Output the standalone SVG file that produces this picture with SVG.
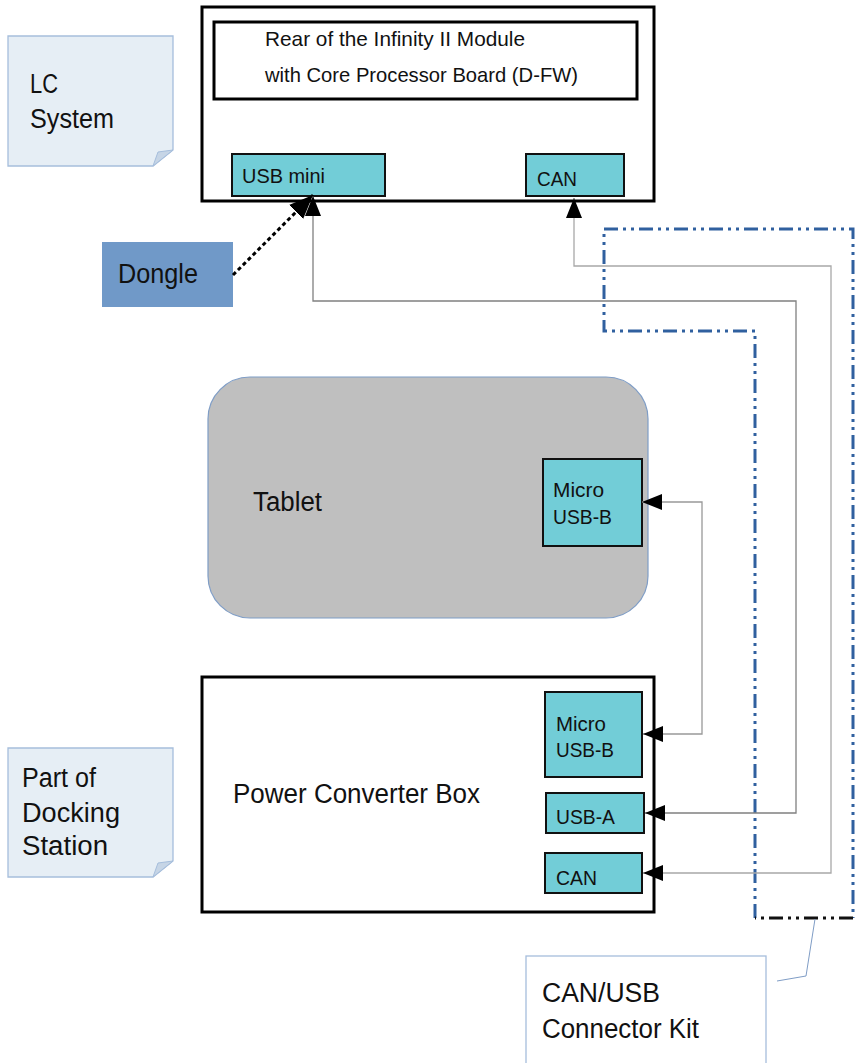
<svg xmlns="http://www.w3.org/2000/svg" width="855" height="1063" viewBox="0 0 855 1063">
<style>
text { font-family: "Liberation Sans", Arial, sans-serif; fill: #111; }
.big { font-size: 27px; }
.mid { font-size: 21px; }
.box { fill: #fff; stroke: #000; stroke-width: 3; }
.port { fill: #72CDD7; stroke: #111; stroke-width: 2; }
.note { fill: #E6EEF5; stroke: #A6BEDC; stroke-width: 1.3; }
.fold { fill: #C6D5E6; stroke: #A6BEDC; stroke-width: 1; }
.wire { fill: none; stroke-width: 1.3; }
.kit { fill: none; stroke-width: 3; stroke-dasharray: 14 5 3 5 3 5; }
</style>
<defs>
<marker id="arr" viewBox="0 0 20 16" refX="20" refY="8" markerWidth="20" markerHeight="16" markerUnits="userSpaceOnUse" orient="auto-start-reverse">
<path d="M0,0 L20,8 L0,16 Z" fill="#000"/>
</marker>
<marker id="arrBig" viewBox="0 0 24 20" refX="24" refY="10" markerWidth="24" markerHeight="20" markerUnits="userSpaceOnUse" orient="auto">
<path d="M0,0 L24,10 L0,20 Z" fill="#000"/>
</marker>
</defs>

<g id="lc-system-note">
<path class="note" d="M8,36 H173 V150 L153,166 H8 Z"/>
<path class="fold" d="M153,166 L158,152 L173,150 Z"/>
<text class="big" x="30" y="93" textLength="28" lengthAdjust="spacingAndGlyphs">LC</text>
<text class="big" x="30" y="128" textLength="84" lengthAdjust="spacingAndGlyphs">System</text>
</g>

<g id="module">
<rect class="box" x="202" y="7" width="452" height="194"/>
<rect class="box" x="214" y="22" width="423" height="77"/>
<text class="mid" x="265" y="46" textLength="260" lengthAdjust="spacingAndGlyphs">Rear of the Infinity II Module</text>
<text class="mid" x="265" y="82" textLength="313" lengthAdjust="spacingAndGlyphs">with Core Processor Board (D-FW)</text>
</g>
<g id="usb-mini">
<rect class="port" x="232" y="154" width="153" height="42"/>
<text class="mid" x="242" y="183" textLength="83" lengthAdjust="spacingAndGlyphs">USB mini</text>
</g>
<g id="can-top">
<rect class="port" x="526" y="154" width="98" height="42"/>
<text class="mid" x="537" y="186" textLength="40" lengthAdjust="spacingAndGlyphs">CAN</text>
</g>

<g id="dongle">
<rect x="102" y="242" width="131" height="65" fill="#7099C8"/>
<text class="big" x="118" y="283" textLength="80" lengthAdjust="spacingAndGlyphs">Dongle</text>
</g>

<g id="tablet">
<rect x="208" y="377" width="440" height="241" rx="42" ry="42" fill="#BFBFBF" stroke="#7F9DC6" stroke-width="1.2"/>
<text class="big" x="253" y="511" textLength="69" lengthAdjust="spacingAndGlyphs">Tablet</text>
</g>
<g id="tablet-micro-usb">
<rect class="port" x="543" y="459" width="99" height="87"/>
<text class="mid" x="553" y="497" textLength="51" lengthAdjust="spacingAndGlyphs">Micro</text>
<text class="mid" x="553" y="524" textLength="59" lengthAdjust="spacingAndGlyphs">USB-B</text>
</g>

<g id="power-converter-box">
<rect class="box" x="202" y="677" width="452" height="235"/>
<text class="big" x="233" y="803" textLength="247" lengthAdjust="spacingAndGlyphs">Power Converter Box</text>
</g>
<g id="power-micro-usb">
<rect class="port" x="545" y="692" width="97" height="85"/>
<text class="mid" x="556" y="731" textLength="50" lengthAdjust="spacingAndGlyphs">Micro</text>
<text class="mid" x="556" y="757" textLength="58" lengthAdjust="spacingAndGlyphs">USB-B</text>
</g>
<g id="power-usb-a">
<rect class="port" x="546" y="793" width="98" height="40"/>
<text class="mid" x="556" y="824" textLength="59" lengthAdjust="spacingAndGlyphs">USB-A</text>
</g>
<g id="power-can">
<rect class="port" x="545" y="853" width="97" height="40"/>
<text class="mid" x="556" y="885" textLength="41" lengthAdjust="spacingAndGlyphs">CAN</text>
</g>

<g id="docking-note">
<path class="note" d="M8,748 H173 V861 L153,877 H8 Z"/>
<path class="fold" d="M153,877 L158,863 L173,861 Z"/>
<text class="big" x="22" y="787" textLength="74" lengthAdjust="spacingAndGlyphs">Part of</text>
<text class="big" x="22" y="822" textLength="98" lengthAdjust="spacingAndGlyphs">Docking</text>
<text class="big" x="22" y="855" textLength="86" lengthAdjust="spacingAndGlyphs">Station</text>
</g>

<g id="connector-kit">
<path class="kit" stroke="#30609F" d="M755,918 V331 H604 V229 H853 V918"/>
<path class="kit" stroke="#111" d="M853,918 H755"/>
<path d="M815,919 L806,976 L777,981" fill="none" stroke="#7F9DC6" stroke-width="1"/>
<rect x="526" y="956" width="240" height="130" fill="#fff" stroke="#A6BEDC" stroke-width="1.3"/>
<text class="big" x="542" y="1002" textLength="118" lengthAdjust="spacingAndGlyphs">CAN/USB</text>
<text class="big" x="542" y="1038" textLength="157" lengthAdjust="spacingAndGlyphs">Connector Kit</text>
</g>

<g id="connectors">
<path class="wire" stroke="#808080" d="M313,196 V301 H796 V813 H645" marker-start="url(#arr)" marker-end="url(#arr)"/>
<path class="wire" stroke="#A8A8A8" stroke-width="1.8" d="M574,198 V266 H831 V873 H643" marker-start="url(#arr)" marker-end="url(#arr)"/>
<path class="wire" stroke="#999" d="M642,502 H702 V734 H643" marker-start="url(#arr)" marker-end="url(#arr)"/>
<path d="M233,275 L313,195" fill="none" stroke="#000" stroke-width="3" stroke-dasharray="4 3" marker-end="url(#arrBig)"/>
</g>
</svg>
